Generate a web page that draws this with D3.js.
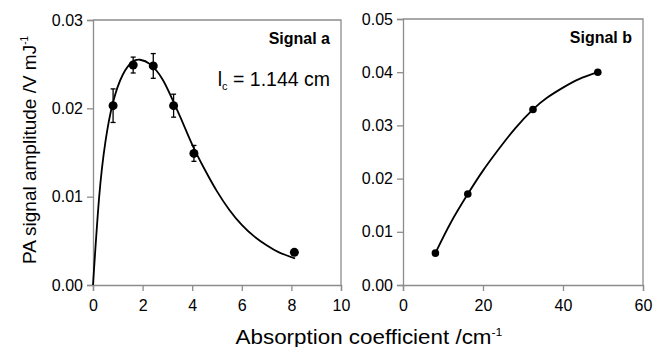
<!DOCTYPE html>
<html>
<head>
<meta charset="utf-8">
<script src="https://cdn.jsdelivr.net/npm/d3@7"></script>
<style>
  body { margin: 0; background: #fff; }
  svg text { font-family: "Liberation Sans", Arial, sans-serif; fill: #000; }
</style>
</head>
<body>
<svg id="chart" width="653" height="347"></svg>
<script>
// Signal a: measured points with error bars
var muA = [0.81, 1.62, 2.43, 3.25, 4.07, 8.12];
var ampA = [0.0203, 0.0249, 0.0248, 0.0203, 0.0149, 0.0037];
var errA = [0.0019, 0.0009, 0.0014, 0.0013, 0.0009, 0.0003];

// Signal a: fitted curve
var fitMuA = [0, 0.25, 0.5, 0.8, 1.2, 1.6, 1.9, 2.3, 2.8, 3.2, 3.6, 4.0, 4.5, 5.0, 5.5, 6.0, 6.5, 7.0, 7.5, 8.15];
var fitAmpA = [0, 0.0100, 0.0162, 0.0206, 0.0238, 0.0253, 0.0255, 0.0250, 0.0233, 0.0210, 0.0185, 0.0159, 0.0131, 0.0106, 0.0085, 0.0068, 0.0055, 0.0045, 0.0037, 0.0030];

// Signal b
var muB = [8.1, 16.2, 32.5, 48.7];
var ampB = [0.0060, 0.0171, 0.0330, 0.0400];
var fitMuB = [8.1, 12, 16.2, 20, 24, 28, 32.5, 36, 40, 44, 48.7];
var fitAmpB = [0.0060, 0.0118, 0.0171, 0.0215, 0.0256, 0.0294, 0.0330, 0.0352, 0.0371, 0.0387, 0.0400];

var ticksXA = [0, 2, 4, 6, 8, 10];
var ticksYA = [0, 0.01, 0.02, 0.03];
var ticksXB = [0, 20, 40, 60];
var ticksYB = [0, 0.01, 0.02, 0.03, 0.04, 0.05];

var svg = d3.select('#chart');
var axisColor = '#8c8c8c';

function panel(opts) {
  var x = d3.scaleLinear().domain(opts.xDomain).range([opts.left, opts.right]);
  var y = d3.scaleLinear().domain(opts.yDomain).range([opts.bottom, opts.top]);
  var g = svg.append('g');

  // frame (top and right)
  g.append('path')
    .attr('d', `M${opts.left},${opts.top}H${opts.right}V${opts.bottom}`)
    .attr('fill', 'none')
    .attr('stroke', axisColor)
    .attr('stroke-width', 1.3);

  var xAxis = g.append('g')
    .attr('transform', `translate(0,${opts.bottom})`)
    .call(d3.axisBottom(x).tickValues(opts.xTicks).tickSizeOuter(0).tickSize(6).tickPadding(9).tickFormat(d3.format('d')));
  var yAxis = g.append('g')
    .attr('transform', `translate(${opts.left},0)`)
    .call(d3.axisLeft(y).tickValues(opts.yTicks).tickSizeOuter(0).tickSize(6).tickPadding(4).tickFormat(d3.format('.2f')));

  [xAxis, yAxis].forEach(function(a) {
    a.select('.domain').attr('stroke', axisColor).attr('stroke-width', 1.3);
    a.selectAll('.tick line').attr('stroke', axisColor).attr('stroke-width', 1.3);
    a.selectAll('.tick text').style('font-size', '16px').attr('fill', '#000');
  });

  var line = d3.line()
    .x(d => x(d[0]))
    .y(d => y(d[1]))
    .curve(d3.curveNatural);

  g.append('path')
    .datum(d3.zip(opts.fitX, opts.fitY))
    .attr('d', line)
    .attr('fill', 'none')
    .attr('stroke', '#000')
    .attr('stroke-width', 1.8);

  if (opts.err) {
    var pts = opts.xs.map((d, i) => ({ x: d, y: opts.ys[i], e: opts.err[i] }));
    var eb = g.selectAll('.err').data(pts).enter().append('g').attr('class', 'err');
    eb.append('line')
      .attr('x1', d => x(d.x)).attr('x2', d => x(d.x))
      .attr('y1', d => y(d.y - d.e)).attr('y2', d => y(d.y + d.e))
      .attr('stroke', '#000').attr('stroke-width', 1.3);
    [-1, 1].forEach(function(s) {
      eb.append('line')
        .attr('x1', d => x(d.x) - 2.5).attr('x2', d => x(d.x) + 2.5)
        .attr('y1', d => y(d.y + s * d.e)).attr('y2', d => y(d.y + s * d.e))
        .attr('stroke', '#000').attr('stroke-width', 1.3);
    });
  }

  g.selectAll('.dot')
    .data(d3.zip(opts.xs, opts.ys))
    .enter()
    .append('circle')
    .attr('class', 'dot')
    .attr('cx', d => x(d[0]))
    .attr('cy', d => y(d[1]))
    .attr('r', opts.r)
    .attr('fill', '#000');

  g.append('text')
    .attr('x', opts.right - 11)
    .attr('y', opts.top + 24)
    .attr('text-anchor', 'end')
    .style('font-size', '16px')
    .style('font-weight', 'bold')
    .text(opts.title);

  return g;
}

var gA = panel({
  left: 93, right: 341, top: 20, bottom: 285,
  xDomain: [0, 10], yDomain: [0, 0.03],
  xTicks: ticksXA, yTicks: ticksYA,
  xs: muA, ys: ampA, err: errA,
  fitX: fitMuA, fitY: fitAmpA,
  r: 4.5, title: 'Signal a'
});

var gB = panel({
  left: 403, right: 643, top: 19, bottom: 285,
  xDomain: [0, 60], yDomain: [0, 0.05],
  xTicks: ticksXB, yTicks: ticksYB,
  xs: muB, ys: ampB, err: null,
  fitX: fitMuB, fitY: fitAmpB,
  r: 3.8, title: 'Signal b'
});

// l_c annotation
var lc = gA.append('text')
  .attr('x', 330)
  .attr('y', 86)
  .attr('text-anchor', 'end')
  .style('font-size', '19.5px');
lc.append('tspan').text('l');
lc.append('tspan').attr('dy', 4).style('font-size', '11px').text('c');
lc.append('tspan').attr('dy', -4).text(' = 1.144 cm');

// axis titles
var xt = svg.append('text')
  .attr('transform', 'translate(369,344) scale(1.12,1)')
  .attr('text-anchor', 'middle')
  .style('font-size', '20px');
xt.append('tspan').text('Absorption coefficient /cm');
xt.append('tspan').attr('dy', -8).style('font-size', '11px').text('-1');

var yt = svg.append('text')
  .attr('transform', 'translate(36,150) rotate(-90)')
  .attr('text-anchor', 'middle')
  .style('font-size', '19px');
yt.append('tspan').text('PA signal amplitude /V mJ');
yt.append('tspan').attr('dy', -8).style('font-size', '10px').text('-1');
</script>
</body>
</html>
